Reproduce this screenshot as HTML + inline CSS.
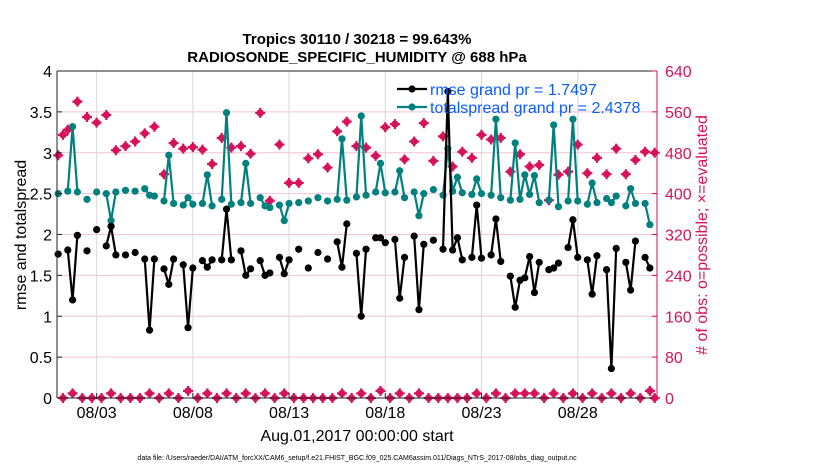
<!DOCTYPE html>
<html><head><meta charset="utf-8"><style>
body{margin:0;background:#fff;}
svg{display:block;font-family:"Liberation Sans",Arial,sans-serif;}
</style></head><body>
<svg id="chart" width="830" height="470" viewBox="0 0 830 470" xmlns="http://www.w3.org/2000/svg">
<text x="357" y="44" text-anchor="middle" font-size="15" font-weight="bold">Tropics 30110 / 30218 = 99.643%</text>
<text x="357" y="62" text-anchor="middle" font-size="15" font-weight="bold">RADIOSONDE_SPECIFIC_HUMIDITY @ 688 hPa</text>
<g id="grid"></g>
<g id="marks"></g>
<g id="axes"></g>
<text transform="translate(26,235) rotate(-90)" text-anchor="middle" font-size="16">rmse and totalspread</text>
<text transform="translate(707,235) rotate(-90)" text-anchor="middle" font-size="16" fill="#d6125a"># of obs: o=possible; ×=evaluated</text>
<text x="357" y="441" text-anchor="middle" font-size="16">Aug.01,2017 00:00:00 start</text>
<text x="357" y="460" text-anchor="middle" font-size="7">data file: /Users/raeder/DAI/ATM_forcXX/CAM6_setup/f.e21.FHIST_BGC.f09_025.CAM6assim.011/Diags_NTrS_2017-08/obs_diag_output.nc</text>
<g id="legend"></g>
</svg>
<script>
const leftTicks=[0,0.5,1,1.5,2,2.5,3,3.5,4];
const leftTickLabels=["0","0.5","1","1.5","2","2.5","3","3.5","4"];
const rightTicks=[0,80,160,240,320,400,480,560,640];
const xTickDays=[2,7,12,17,22,27];
const xTickLabels=["08/03","08/08","08/13","08/18","08/23","08/28"];
const N=null;
const rmse=[1.76,N,1.81,1.20,1.99,N,1.80,N,2.06,N,1.86,2.10,1.75,N,1.75,N,1.78,N,1.70,0.83,1.70,N,1.58,1.39,1.70,N,1.63,0.86,1.59,N,1.68,1.60,1.69,N,1.69,2.31,1.69,N,1.80,1.50,1.58,N,1.68,1.50,1.53,N,1.72,1.52,1.69,N,1.82,N,1.59,N,1.78,N,1.70,N,1.91,1.60,2.13,N,1.77,1.00,1.82,N,1.96,1.96,1.90,N,1.94,1.22,1.72,N,1.98,1.08,1.88,N,1.93,N,1.82,3.75,1.81,1.96,1.69,N,1.72,2.36,1.71,N,1.75,2.19,1.67,N,1.49,1.11,1.44,1.47,1.73,1.29,1.66,N,1.57,1.59,1.65,N,1.84,2.18,1.72,N,1.69,1.27,1.74,N,1.57,0.36,1.83,N,1.66,1.32,1.92,N,1.72,1.59,N];
const spread=[2.50,N,2.53,3.32,2.52,N,2.43,N,2.52,N,2.50,2.17,2.52,N,2.54,N,2.53,N,2.56,2.48,2.47,N,2.41,2.97,2.38,N,2.36,2.45,2.37,N,2.38,2.73,2.35,N,2.43,3.49,2.37,N,2.39,2.87,2.38,N,2.45,2.35,2.33,N,2.36,2.17,2.38,N,2.39,N,2.41,N,2.45,N,2.41,N,2.43,3.17,2.42,N,2.46,3.45,2.48,N,2.52,2.87,2.51,N,2.52,2.78,2.45,N,2.52,2.23,2.50,N,2.55,N,2.48,3.05,2.53,2.70,2.51,N,2.49,2.68,2.50,N,2.48,3.41,2.45,N,2.42,3.12,2.43,2.73,2.49,2.72,2.39,N,2.42,3.34,2.34,N,2.41,3.41,2.41,N,2.37,2.63,2.39,N,2.44,2.39,2.47,N,2.35,2.56,2.38,N,2.38,2.12,N];
const possible=[475,515,525,N,580,N,550,N,539,N,554,N,485,N,493,N,502,N,518,N,531,N,438,N,499,N,488,N,491,N,486,N,458,N,509,N,490,N,493,N,478,N,558,N,386,N,496,N,421,N,421,N,469,N,477,N,451,N,522,N,541,N,493,N,490,N,474,N,530,N,536,N,467,N,502,N,538,N,464,N,512,N,453,N,482,N,470,N,515,N,506,N,509,N,443,N,477,N,453,N,456,N,387,N,437,N,443,N,496,N,440,N,470,N,438,N,488,N,438,N,466,N,482,N,480];
const evaluated=[N,0,N,9,N,0,N,0,N,0, N,9,N,0,N,0,N,0,N,9, N,0,N,9,N,0,N,14,N,0, N,9,N,0,N,9,N,0,N,9, N,0,N,9,N,0,N,9,N,0, N,0,N,0,N,0,N,0,N,9, N,0,N,9,N,0,N,14,N,0, N,9,N,0,N,9,N,0,N,0, N,0,N,0,N,0,N,9,N,0, N,9,N,0,N,9,N,9,N,9, N,0,N,9,N,0,N,9,N,0, N,9,N,0,N,9,N,0,N,9, N,0,N,14,0];

const X0=57,X1=657,Y0=398,Y1=71;
const x=d=>X0+(d+0.06)*(X1-X0)/31.18;
const yL=v=>Y0-v*(Y0-Y1)/4;
const yR=c=>Y0-c*(Y0-Y1)/640;
const slotDay=i=>i*0.25;
const NS="http://www.w3.org/2000/svg";
function mk(tag,parent,attrs){const e=document.createElementNS(NS,tag);for(const k in attrs)e.setAttribute(k,attrs[k]);parent.appendChild(e);return e;}
const grid=document.getElementById('grid'),marks=document.getElementById('marks'),axes=document.getElementById('axes'),legend=document.getElementById('legend');
mk('rect',grid,{x:X0,y:Y1,width:X1-X0,height:Y0-Y1,fill:'#fff'});
rightTicks.forEach(c=>{const l=mk('line',grid,{x1:X0,x2:X1,y1:yR(c),y2:yR(c),stroke:'#f3c4d6','stroke-width':1});

});
xTickDays.forEach(d=>{const l=mk('line',grid,{x1:x(d),x2:x(d),y1:Y1,y2:Y0,stroke:'#d8d8d8','stroke-width':1});

});
const MAG='#d6125a';
function star(cx,cy,name){
 const g=mk('g',marks,{});
 
 
 mk('path',g,{d:`M${cx-5},${cy}H${cx+5}M${cx},${cy-5}V${cy+5}`,stroke:MAG,'stroke-width':2.2});
 mk('circle',g,{cx:cx,cy:cy,r:3.6,fill:MAG});
}
possible.forEach((c,i)=>{if(c!==null)star(x(slotDay(i)),yR(c),'possible-marker');});
evaluated.forEach((c,i)=>{if(c!==null)star(x(slotDay(i)),yR(c),'evaluated-marker');});
function series(arr,color,name){
 let seg=[];const segs=[];
 arr.forEach((v,i)=>{if(v===null){if(seg.length)segs.push(seg);seg=[];}else seg.push([x(slotDay(i)),yL(v)]);});
 if(seg.length)segs.push(seg);
 segs.forEach(s=>{if(s.length>1){const p=mk('polyline',marks,{points:s.map(q=>q.join(',')).join(' '),fill:'none',stroke:color,'stroke-width':2.2});
 
 }});
 arr.forEach((v,i)=>{if(v!==null){const c=mk('circle',marks,{cx:x(slotDay(i)),cy:yL(v),r:3.6,fill:color});
 
 }});
}
series(spread,'#00807f','totalspread');
series(rmse,'#000000','rmse');
mk('line',axes,{x1:X0,x2:X1,y1:Y1,y2:Y1,stroke:'#222','stroke-width':1});
mk('line',axes,{x1:X0,x2:X1,y1:Y0,y2:Y0,stroke:'#222','stroke-width':1});
mk('line',axes,{x1:X0,x2:X0,y1:Y1,y2:Y0,stroke:'#222','stroke-width':1});
mk('line',axes,{x1:X1,x2:X1,y1:Y1,y2:Y0,stroke:MAG,'stroke-width':1});
leftTicks.forEach((v,i)=>{mk('line',axes,{x1:X0,x2:X0+5,y1:yL(v),y2:yL(v),stroke:'#222'});
 const t=mk('text',axes,{x:X0-5,y:yL(v)+6,'text-anchor':'end','font-size':16});t.textContent=leftTickLabels[i];
 
 });
rightTicks.forEach(c=>{mk('line',axes,{x1:X1-5,x2:X1,y1:yR(c),y2:yR(c),stroke:MAG});
 const t=mk('text',axes,{x:X1+8,y:yR(c)+6,'font-size':16,fill:MAG});t.textContent=c;
 
 });
xTickDays.forEach((d,i)=>{mk('line',axes,{x1:x(d),x2:x(d),y1:Y0,y2:Y0-5,stroke:'#222'});
 const t=mk('text',axes,{x:x(d),y:Y0+20,'text-anchor':'middle','font-size':16});t.textContent=xTickLabels[i];
 
 });
[['rmse grand pr = 1.7497','#000',89,'legend-rmse'],['totalspread grand pr = 2.4378','#00807f',107,'legend-totalspread']].forEach(e=>{
 const g=mk('g',legend,{});
 
 
 mk('line',g,{x1:397,x2:427,y1:e[2],y2:e[2],stroke:e[1],'stroke-width':2.2});
 mk('circle',g,{cx:412,cy:e[2],r:3.6,fill:e[1]});
 const t=mk('text',g,{x:430,y:e[2]+6,'font-size':16,fill:'#0a5cff'});t.textContent=e[0];
});
</script>
</body></html>
